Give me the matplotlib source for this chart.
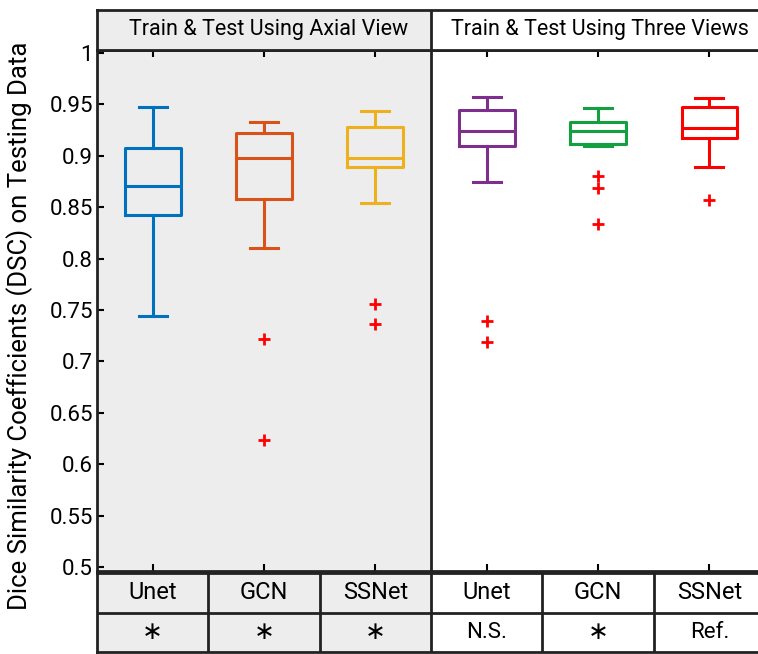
import matplotlib.pyplot as plt
from matplotlib.patches import Rectangle

plt.rcParams['font.family'] = ['Roboto', 'DejaVu Sans']

# box statistics
models = ["Unet", "GCN", "SSNet", "Unet", "GCN", "SSNet"]
signif = ["\u2217", "\u2217", "\u2217", "N.S.", "\u2217", "Ref."]
groups = ["Train & Test Using Axial View", "Train & Test Using Three Views"]
whishi = [0.948, 0.933, 0.944, 0.957, 0.947, 0.956]
q3 = [0.908, 0.922, 0.928, 0.945, 0.933, 0.948]
med = [0.871, 0.898, 0.898, 0.924, 0.924, 0.927]
q1 = [0.842, 0.858, 0.889, 0.910, 0.912, 0.917]
whislo = [0.744, 0.810, 0.854, 0.875, 0.910, 0.889]
fliers = [[], [0.722, 0.623], [0.756, 0.736], [0.739, 0.719],
          [0.880, 0.869, 0.834], [0.857]]
colors = ["#0072BD", "#D95319", "#EDB120", "#7E2F8E", "#12A040", "#FF0000"]

W, H = 758, 654
fig = plt.figure(figsize=(W / 100, H / 100), dpi=100)

left = 97 / W
width = 668 / W
def fy(px):
    return 1 - px / H

ax = fig.add_axes([left, fy(571), width, fy(50) - fy(571)])
ax.add_patch(Rectangle((0.5, 0), 3, 2, color="#ededed", zorder=0))
ax.axvline(3.5, color="#222222", lw=2)

stats = []
for i in range(len(models)):
    stats.append(dict(med=med[i], q1=q1[i], q3=q3[i], whislo=whislo[i],
                      whishi=whishi[i], fliers=fliers[i]))
pos = list(range(1, len(models) + 1))
bp = ax.bxp(stats, positions=pos, widths=0.5, showfliers=True)
for i, c in enumerate(colors):
    bp['boxes'][i].set(color=c, lw=2.2)
    bp['medians'][i].set(color=c, lw=2.2)
    for w in bp['whiskers'][2 * i:2 * i + 2]:
        w.set(color=c, lw=2.2, linestyle='-')
    for cp in bp['caps'][2 * i:2 * i + 2]:
        cp.set(color=c, lw=2.2)
    bp['fliers'][i].set(marker='+', markeredgecolor='red', markersize=8,
                        markeredgewidth=2)

ax.set_xlim(0.5, 6.5)
ax.set_ylim(0.496, 1.003)
ax.set_yticks([0.5, 0.55, 0.6, 0.65, 0.7, 0.75, 0.8, 0.85, 0.9, 0.95, 1])
ax.set_yticklabels(["0.5", "0.55", "0.6", "0.65", "0.7", "0.75", "0.8",
                    "0.85", "0.9", "0.95", "1"])
ax.set_xticks(pos)
ax.set_xticklabels([])
ax.tick_params(direction='in', top=True, right=True, length=5, width=1.5,
               labelsize=16, pad=3)
for s in ax.spines.values():
    s.set_linewidth(2)
    s.set_color("#222222")

fig.text(20 / W, fy(326), "Dice Similarity Coefficients (DSC) on Testing Data",
         rotation=90, ha='center', va='center', fontsize=18.5)

# header
hx = fig.add_axes([left, fy(50), width, fy(10) - fy(50)])
hx.set_xlim(0.5, 6.5)
hx.set_ylim(0, 1)
hx.add_patch(Rectangle((0.5, 0), 3, 1, color="#ededed", zorder=0))
hx.axvline(3.5, color="#222222", lw=2)
hx.text(2.04, 0.5, groups[0], ha='center', va='center', fontsize=15.5)
hx.text(5.02, 0.5, groups[1], ha='center', va='center', fontsize=15.5)
hx.set_xticks([])
hx.set_yticks([])
for s in hx.spines.values():
    s.set_linewidth(2)
    s.set_color("#222222")

# table under the plot
tx = fig.add_axes([left, fy(652), width, fy(573) - fy(652)])
tx.set_xlim(0.5, 6.5)
tx.set_ylim(0, 2)
tx.add_patch(Rectangle((0.5, 0), 3, 2, color="#ededed", zorder=0))
for b in range(len(models) - 1):
    tx.axvline(pos[b] + 0.5, color="#222222", lw=2)
tx.axhline(1, color="#222222", lw=2)
for i in range(len(models)):
    tx.text(pos[i], 1.5, models[i], ha='center', va='center', fontsize=17)
    tx.text(pos[i], 0.5, signif[i], ha='center', va='center',
            fontsize=18 if signif[i] == "\u2217" else 16)
tx.set_xticks([])
tx.set_yticks([])
for s in tx.spines.values():
    s.set_linewidth(2)
    s.set_color("#222222")

fig.savefig("out.png", dpi=100, facecolor="white")
